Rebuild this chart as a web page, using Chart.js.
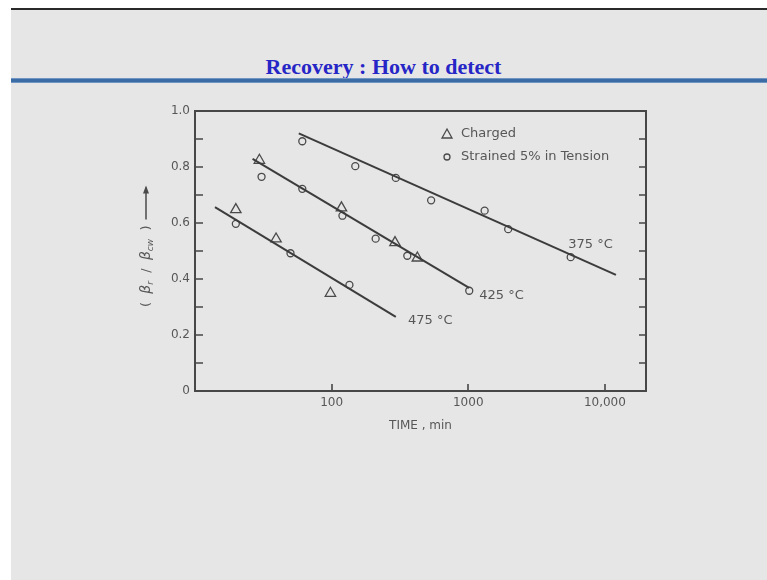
<!DOCTYPE html>
<html>
<head>
<meta charset="utf-8">
<title>Recovery : How to detect</title>
<script src="https://cdn.jsdelivr.net/npm/chart.js@4"></script>
<style>
    html, body { margin: 0; padding: 0; }
    body { width: 767px; height: 580px; background: #fff; position: relative; overflow: hidden; }
    #slide { position: absolute; left: 11px; top: 8px; right: 0; bottom: 0; background: #e6e6e6; border-top: 2px solid #2a2a2a; }
    #title { position: absolute; left: 0; width: 767px; top: 54px; line-height: 22px; text-align: center;
             font: bold 22px "Liberation Serif", "Times New Roman", serif; color: #2626c6; }
    #rule { position: absolute; left: 11px; right: 0; top: 78px; height: 5px;
            background: linear-gradient(#8aa9cf, #3c6ca6 30%, #3c6ca6 70%, #8aa9cf); }
    #chart { position: absolute; left: 0; top: 0; }
</style>
</head>
<body>
<div id="slide"></div>
<div id="title">Recovery : How to detect</div>
<div id="rule"></div>
<canvas id="chart" width="767" height="580"></canvas>

<script>
// Values (time in minutes, ratio beta_r / beta_cw)
const chargedTime  = [19.9, 29.6, 39.2, 98, 118, 291, 424];
const chargedRatio = [0.648, 0.824, 0.543, 0.349, 0.654, 0.530, 0.475];

const strainedTime  = [19.9, 30.7, 50, 61, 61, 120, 135, 149, 210, 295, 358, 535, 1017, 1318, 1960, 5620];
const strainedRatio = [0.597, 0.765, 0.492, 0.892, 0.722, 0.626, 0.379, 0.803, 0.544, 0.761, 0.483, 0.681, 0.358, 0.644, 0.578, 0.478];

// fitted lines, one per temperature (end points)
const fit475Time  = [14, 295];
const fit475Ratio = [0.657, 0.265];
const fit425Time  = [26.4, 1016];
const fit425Ratio = [0.829, 0.368];
const fit375Time  = [57.5, 12050];
const fit375Ratio = [0.920, 0.415];

// curve labels: text, anchor time, anchor ratio
const curveLabels = ['375 °C', '425 °C', '475 °C'];
const curveLabelTime  = [5400, 1205, 362];
const curveLabelRatio = [0.522, 0.339, 0.251];

const xTickValues = [100, 1000, 10000];
const xTickLabels = ['100', '1000', '10,000'];

const legendLabels = ['Charged', 'Strained 5% in Tension'];

const ink = '#3c3c3c';
const textGray = '#575757';
const labelFont = '"DejaVu Sans", sans-serif';

function toPoints(xs, ys) {
    return xs.map((v, i) => ({ x: v, y: ys[i] }));
}

function lineSet(xs, ys) {
    return {
        type: 'line',
        data: toPoints(xs, ys),
        borderColor: ink,
        borderWidth: 2,
        pointRadius: 0,
        fill: false
    };
}

// Frame, inward tick marks, legend, curve labels and y axis title
const decorPlugin = {
    id: 'decor',
    afterDraw(chart) {
        const ctx = chart.ctx;
        const a = chart.chartArea;
        const x = chart.scales.x;
        const y = chart.scales.y;
        ctx.save();

        ctx.strokeStyle = '#474747';
        ctx.lineWidth = 2;
        ctx.strokeRect(a.left, a.top, a.right - a.left, a.bottom - a.top);

        ctx.lineWidth = 1.6;
        ctx.beginPath();
        y.ticks.forEach(t => {
            if (t.value <= 0 || t.value >= 1) return;
            const py = Math.round(y.getPixelForValue(t.value));
            ctx.moveTo(a.left, py); ctx.lineTo(a.left + 8, py);
            ctx.moveTo(a.right, py); ctx.lineTo(a.right - 7, py);
        });
        x.ticks.forEach(t => {
            const px = Math.round(x.getPixelForValue(t.value));
            ctx.moveTo(px, a.bottom); ctx.lineTo(px, a.bottom - 7);
        });
        ctx.stroke();

        // legend
        const lx = a.left + 252;
        const ly = a.top + 23;
        ctx.strokeStyle = '#4a4a4a';
        ctx.lineWidth = 1.3;
        ctx.beginPath();
        ctx.moveTo(lx, ly - 5);
        ctx.lineTo(lx + 5, ly + 4);
        ctx.lineTo(lx - 5, ly + 4);
        ctx.closePath();
        ctx.stroke();
        ctx.beginPath();
        ctx.arc(lx, ly + 23, 3, 0, Math.PI * 2);
        ctx.stroke();
        ctx.fillStyle = textGray;
        ctx.font = '13px ' + labelFont;
        ctx.textAlign = 'left';
        ctx.textBaseline = 'middle';
        ctx.fillText(legendLabels[0], lx + 14, ly);
        ctx.fillText(legendLabels[1], lx + 14, ly + 23);

        // temperature labels
        curveLabels.forEach((txt, i) => {
            ctx.fillText(txt, x.getPixelForValue(curveLabelTime[i]), y.getPixelForValue(curveLabelRatio[i]));
        });

        // y axis title: ( beta_r / beta_cw ) -->
        ctx.translate(146, 307);
        ctx.rotate(-Math.PI / 2);
        ctx.textBaseline = 'alphabetic';
        let cx = 0;
        const part = (s, font, dy) => {
            ctx.font = font;
            ctx.fillText(s, cx, dy);
            cx += ctx.measureText(s).width;
        };
        const main = '13px ' + labelFont;
        const greek = 'italic 14px ' + labelFont;
        const sub = 'italic 9px ' + labelFont;
        part('(  ', main, 4);
        part('β', greek, 4);
        part('r', sub, 7);
        part('  /  ', main, 4);
        part('β', greek, 4);
        part('cw', sub, 7);
        part('  )', main, 4);
        ctx.strokeStyle = '#4a4a4a';
        ctx.lineWidth = 1.5;
        ctx.beginPath();
        ctx.moveTo(cx + 6, 0);
        ctx.lineTo(cx + 38, 0);
        ctx.stroke();
        ctx.beginPath();
        ctx.moveTo(cx + 40, 0);
        ctx.lineTo(cx + 32, -3);
        ctx.lineTo(cx + 32, 3);
        ctx.closePath();
        ctx.fillStyle = '#4a4a4a';
        ctx.fill();

        ctx.restore();
    }
};

function initRecoveryChart() {
    const ctx = document.getElementById('chart').getContext('2d');
    new Chart(ctx, {
        type: 'scatter',
        data: {
            datasets: [
                lineSet(fit475Time, fit475Ratio),
                lineSet(fit425Time, fit425Ratio),
                lineSet(fit375Time, fit375Ratio),
                {
                    label: legendLabels[0],
                    data: toPoints(chargedTime, chargedRatio),
                    pointStyle: 'triangle',
                    pointRadius: 6,
                    borderColor: '#4a4a4a',
                    borderWidth: 1.3,
                    backgroundColor: 'rgba(0,0,0,0)'
                },
                {
                    label: legendLabels[1],
                    data: toPoints(strainedTime, strainedRatio),
                    pointStyle: 'circle',
                    pointRadius: 3.5,
                    borderColor: '#4a4a4a',
                    borderWidth: 1.3,
                    backgroundColor: 'rgba(0,0,0,0)'
                }
            ]
        },
        options: {
            responsive: false,
            animation: false,
            devicePixelRatio: 1,
            layout: {
                padding: { left: 0, top: 111, right: 121, bottom: 144 }
            },
            plugins: {
                legend: { display: false },
                tooltip: { enabled: false }
            },
            scales: {
                x: {
                    type: 'logarithmic',
                    min: 10,
                    max: 20000,
                    grid: { display: false, drawTicks: false },
                    border: { display: false },
                    afterBuildTicks: scale => {
                        scale.ticks = xTickValues.map(v => ({ value: v }));
                    },
                    afterFit: scale => { scale.height = 45; },
                    ticks: {
                        padding: 5,
                        color: textGray,
                        font: { family: labelFont, size: 12 },
                        callback: function(value) {
                            const i = xTickValues.indexOf(value);
                            return i >= 0 ? xTickLabels[i] : '';
                        }
                    },
                    title: {
                        display: true,
                        text: 'TIME , min',
                        color: textGray,
                        font: { family: labelFont, size: 12 },
                        padding: { top: 0, bottom: 3 }
                    }
                },
                y: {
                    min: 0,
                    max: 1,
                    grid: { display: false, drawTicks: false },
                    border: { display: false },
                    afterFit: scale => { scale.width = 195; },
                    ticks: {
                        stepSize: 0.1,
                        padding: 5,
                        color: textGray,
                        font: { family: labelFont, size: 12 },
                        callback: function(value) {
                            const tenths = Math.round(value * 10);
                            if (tenths % 2 !== 0) return '';
                            if (tenths === 0) return '0';
                            return (tenths / 10).toFixed(1);
                        }
                    }
                }
            }
        },
        plugins: [decorPlugin]
    });
}

document.addEventListener('DOMContentLoaded', () => {
    initRecoveryChart();
});
</script>
</body>
</html>
